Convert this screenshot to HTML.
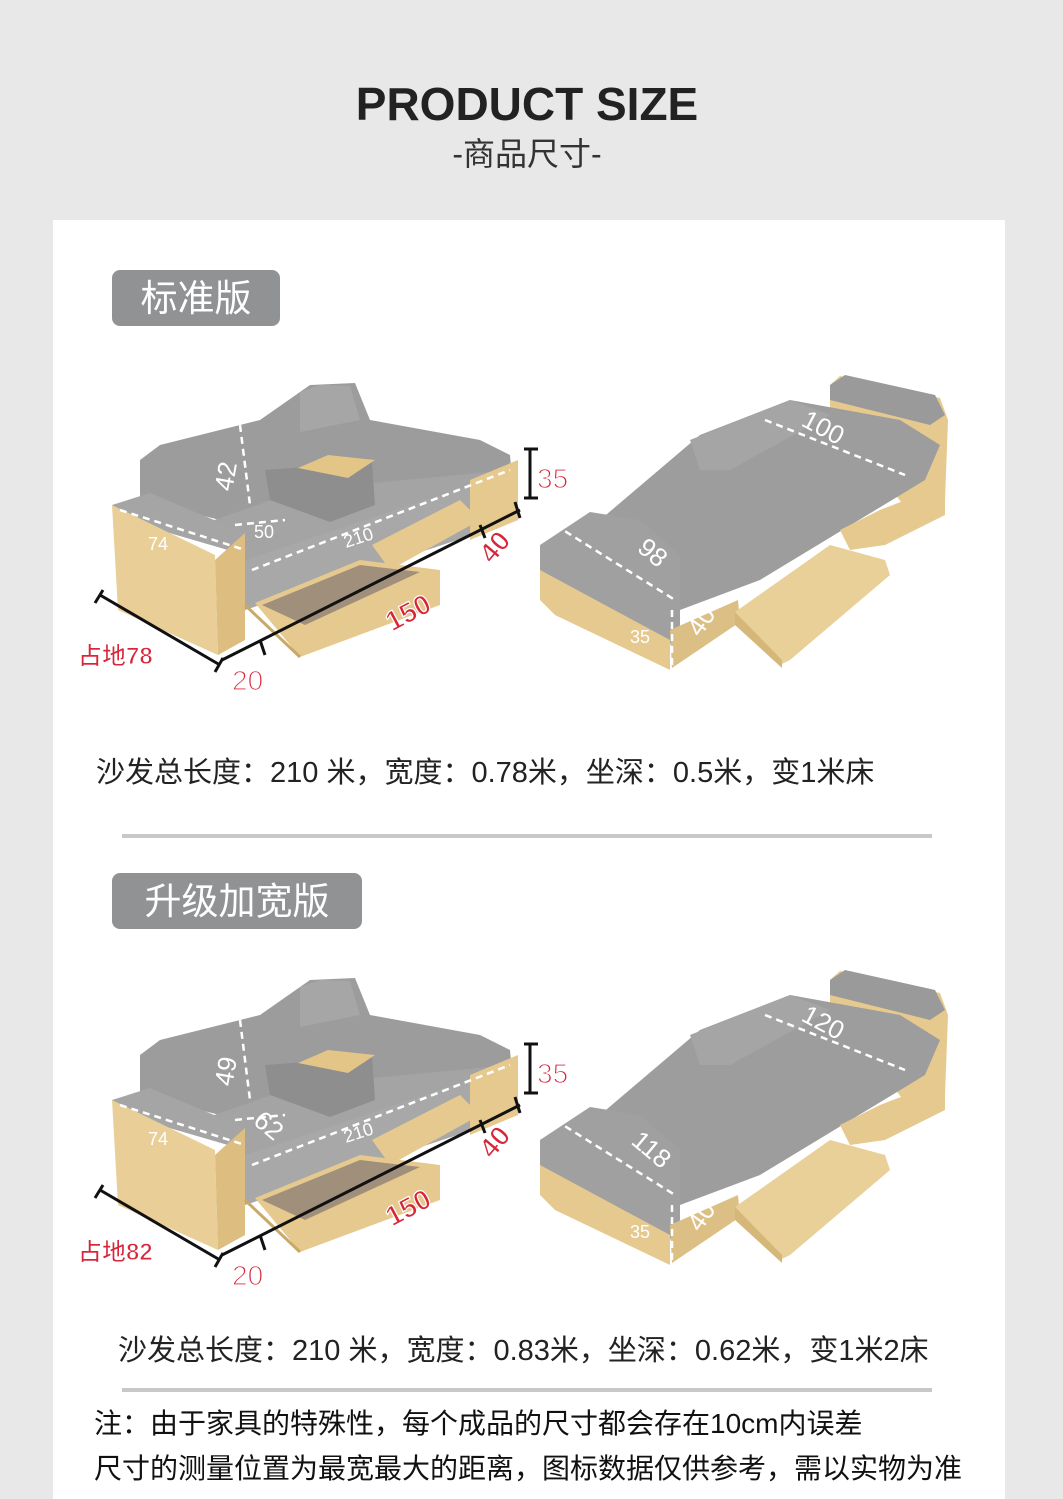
<!DOCTYPE html>
<html><head><meta charset="utf-8"><style>
body{margin:0;width:1063px;height:1499px;background:#e8e8e8;overflow:hidden;font-family:"Liberation Sans","Noto Sans CJK SC",sans-serif}
svg{position:absolute;left:0;top:0}
</style></head><body>
<svg width="1063" height="1499" viewBox="0 0 1063 1499" xmlns="http://www.w3.org/2000/svg" font-family="Liberation Sans, Noto Sans CJK SC, sans-serif">
<defs>
<g id="sofa">
 <polygon points="140,460 160,445 260,420 310,385 355,383 370,420 480,440 510,455 512,478 300,540 140,500" fill="#9c9c9c"/>
 <polygon points="300,392 320,385 350,386 360,420 300,432" fill="#a6a6a6"/>
 <polygon points="200,525 300,490 510,470 515,505 245,600 245,545" fill="#a4a4a4"/>
 <polygon points="265,470 372,462 375,505 330,522 270,500" fill="#8e8e8e"/>
 <polygon points="298,468 328,455 375,460 348,478" fill="#e2c587"/>
 <polygon points="112,505 150,493 245,533 245,555 125,520" fill="#a5a5a5"/>
 <polygon points="245,533 245,640 218,655 215,560" fill="#ddbe80"/>
 <polygon points="112,505 215,555 218,655 118,610" fill="#e9cf97"/>
 <polygon points="245,560 515,470 518,478 518,520 245,610" fill="#a8a8a8"/>
 <polygon points="470,480 518,460 518,520 470,540" fill="#e6c98e"/>
 <polygon points="372,545 460,500 480,520 390,570" fill="#e6c98e"/>
 <polygon points="255,603 360,560 440,570 440,605 300,657" fill="#e6c98e"/>
 <polygon points="262,605 360,565 420,572 305,625" fill="#a08f7a"/>
 <line x1="245" y1="605" x2="300" y2="657" stroke="#c9a968" stroke-width="3"/>
 <polygon points="830,385 840,376 940,398 948,420 945,500 915,520 830,410" fill="#e6c98e"/>
 <polygon points="830,385 845,375 935,395 945,415 930,425 830,400" fill="#9a9a9a"/>
 <polygon points="600,520 700,435 790,400 900,420 940,445 925,480 760,580 680,610" fill="#9d9d9d"/>
 <polygon points="690,440 790,400 830,415 730,470 700,470" fill="#a5a5a5"/>
 <polygon points="540,545 590,512 640,520 680,555 680,625 670,645 540,590" fill="#a0a0a0"/>
 <polygon points="540,570 670,640 670,670 555,615 540,600" fill="#e6c98e"/>
 <polygon points="670,630 738,600 740,622 672,668" fill="#dcbf84"/>
 <polygon points="840,530 880,510 945,485 945,515 885,545 850,550" fill="#e6c98e"/>
 <polygon points="735,612 830,545 885,560 890,575 790,660 780,665" fill="#e9cf98"/>
 <polygon points="735,612 782,660 782,668 735,625" fill="#d6b77a"/>
 <g stroke="#fff" stroke-width="2.5" stroke-dasharray="7,5" fill="none">
  <line x1="240" y1="425" x2="250" y2="505"/>
  <line x1="235" y1="525" x2="285" y2="520"/>
  <line x1="252" y1="570" x2="510" y2="470"/>
  <line x1="120" y1="510" x2="245" y2="550"/>
  <line x1="555" y1="525" x2="675" y2="600"/>
  <line x1="765" y1="420" x2="905" y2="475"/>
  <line x1="672" y1="610" x2="672" y2="665"/>
 </g>
 <g stroke="#111" stroke-width="3" fill="none">
  <line x1="100" y1="595" x2="220" y2="665"/>
  <line x1="95" y1="603" x2="103" y2="590"/><line x1="215" y1="672" x2="223" y2="658"/>
  <line x1="222" y1="660" x2="520" y2="510"/>
  <line x1="260" y1="640" x2="265" y2="655"/><line x1="480" y1="525" x2="485" y2="538"/>
  <line x1="515" y1="502" x2="520" y2="518"/>
  <line x1="530" y1="450" x2="530" y2="498"/><line x1="524" y1="449" x2="538" y2="449"/><line x1="524" y1="498" x2="538" y2="498"/>
 </g>
 <g fill="#fff" font-size="18">
  <text x="148" y="550">74</text>
  <text x="346" y="548" transform="rotate(-18 346 548)">210</text>
  <text x="630" y="643">35</text>
 </g>
 <g fill="#fff" font-size="26">
  <text x="700" y="638" transform="rotate(-55 700 638)">40</text>
 </g>
 <g fill="#d7263a" stroke="#fff" stroke-width="1.2" font-weight="bold" font-size="28">
  <text x="537" y="488" font-weight="normal">35</text>
  <text x="492" y="565" transform="rotate(-50 492 565)">40</text>
  <text x="392" y="632" transform="rotate(-28 392 632)">150</text>
  <text x="232" y="690" font-weight="normal">20</text>
 </g>
</g>
</defs>
<text x="527" y="120" text-anchor="middle" font-size="46" font-weight="bold" fill="#222">PRODUCT SIZE</text>
<text x="527" y="165" text-anchor="middle" font-size="32" fill="#333">-商品尺寸-</text>
<rect x="53" y="220" width="952" height="1290" fill="#fff"/>
<rect x="112" y="270" width="168" height="56" rx="8" fill="#909294"/>
<text x="196" y="311" text-anchor="middle" font-size="37" fill="#fff">标准版</text>
<use href="#sofa"/>
<g fill="#fff" font-size="26">
 <text x="232" y="492" transform="rotate(-80 232 492)">42</text>
 <text x="800" y="425" transform="rotate(28 800 425)">100</text>
 <text x="636" y="550" transform="rotate(40 636 550)">98</text>
</g>
<text x="254" y="538" fill="#fff" font-size="18">50</text>
<text x="78" y="664" font-size="24" font-weight="bold" fill="#d7263a" stroke="#fff" stroke-width="1">占地78</text>
<text x="96" y="782" font-size="29" fill="#222">沙发总长度：210 米，宽度：0.78米，坐深：0.5米，变1米床</text>
<line x1="122" y1="836" x2="932" y2="836" stroke="#c8c8c8" stroke-width="4"/>
<rect x="112" y="873" width="250" height="56" rx="8" fill="#909294"/>
<text x="237" y="914" text-anchor="middle" font-size="37" fill="#fff">升级加宽版</text>
<g transform="translate(0,595)">
 <use href="#sofa"/>
 <g fill="#fff" font-size="26">
  <text x="232" y="492" transform="rotate(-80 232 492)">49</text>
  <text x="252" y="528" transform="rotate(40 252 528)">62</text>
  <text x="800" y="425" transform="rotate(28 800 425)">120</text>
  <text x="630" y="548" transform="rotate(40 630 548)">118</text>
 </g>
</g>
<text x="78" y="1260" font-size="24" font-weight="bold" fill="#d7263a" stroke="#fff" stroke-width="1">占地82</text>
<text x="118" y="1360" font-size="29" fill="#222">沙发总长度：210 米，宽度：0.83米，坐深：0.62米，变1米2床</text>
<line x1="122" y1="1390" x2="932" y2="1390" stroke="#c8c8c8" stroke-width="4"/>
<text x="94" y="1433" font-size="28" fill="#111">注：由于家具的特殊性，每个成品的尺寸都会存在10cm内误差</text>
<text x="94" y="1478" font-size="28" fill="#111">尺寸的测量位置为最宽最大的距离，图标数据仅供参考，需以实物为准</text>
</svg>
</body></html>
